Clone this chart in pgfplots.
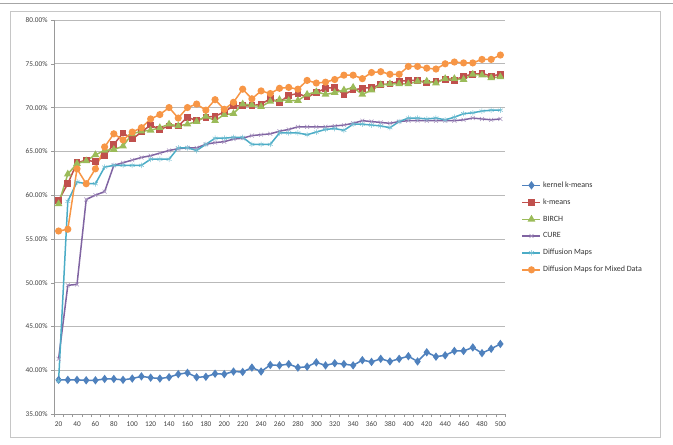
\documentclass[border=0pt]{standalone}
\usepackage{pgfplots}
\pgfplotsset{compat=1.18}
\usepackage{pgfplotstable}
\usepackage{fontspec}
\setmainfont{Carlito}
\definecolor{cBlue}{HTML}{4F81BD}
\definecolor{cRed}{HTML}{C0504D}
\definecolor{cGreen}{HTML}{9BBB59}
\definecolor{cPurple}{HTML}{8064A2}
\definecolor{cCyan}{HTML}{4BACC6}
\definecolor{cOrange}{HTML}{F79646}
\pgfplotstableread{
x kkm km birch cure dm dmm
20 38.9 59.4 59.0 41.3 38.8 55.9
30 38.9 61.3 62.4 49.7 59.3 56.1
40 38.9 63.7 63.6 49.8 61.5 63.0
50 38.85 64.0 63.9 59.5 61.3 61.3
60 38.85 63.8 64.6 60.0 61.3 63.0
70 39.0 64.5 65.1 60.4 63.2 65.5
80 39.0 65.8 65.2 63.4 63.4 67.0
90 38.9 67.1 65.6 63.7 63.4 66.3
100 39.05 66.4 67.0 64.0 63.4 67.2
110 39.3 67.2 67.3 64.3 63.4 67.7
120 39.15 68.0 67.4 64.5 64.1 68.7
130 39.05 67.5 67.7 64.8 64.1 69.2
140 39.2 67.9 68.1 65.1 64.1 70.0
150 39.55 67.9 67.9 65.3 65.4 68.8
160 39.7 68.9 68.1 65.4 65.4 70.0
170 39.2 68.5 68.4 65.4 65.1 70.4
180 39.25 68.9 69.0 65.8 65.8 69.7
190 39.6 69.0 68.5 66.0 66.5 70.9
200 39.55 69.5 69.2 66.1 66.5 69.8
210 39.85 70.2 69.3 66.4 66.6 70.6
220 39.8 70.2 70.4 66.5 66.6 72.1
230 40.3 70.2 70.3 66.8 65.8 71.0
240 39.85 70.4 70.1 66.9 65.8 71.9
250 40.6 71.0 70.7 67.0 65.8 71.6
260 40.55 70.6 70.9 67.3 67.1 72.2
270 40.7 71.4 70.8 67.5 67.1 72.3
280 40.3 71.6 70.8 67.8 67.1 72.1
290 40.4 71.2 71.5 67.8 66.9 73.1
300 40.9 71.7 71.8 67.8 67.2 72.8
310 40.55 72.2 71.5 67.8 67.5 72.9
320 40.8 72.3 71.7 67.9 67.6 73.2
330 40.7 71.5 72.0 68.0 67.4 73.7
340 40.55 72.0 72.3 68.2 68.1 73.7
350 41.15 72.2 71.5 68.5 68.1 73.3
360 40.95 72.3 72.0 68.4 68.0 74.0
370 41.3 72.6 72.6 68.3 67.9 74.1
380 41.0 72.7 72.7 68.2 67.7 73.8
390 41.3 73.0 72.7 68.4 68.4 73.8
400 41.6 73.1 72.7 68.5 68.8 74.7
410 41.0 73.1 73.0 68.5 68.8 74.7
420 42.05 72.8 73.0 68.5 68.7 74.5
430 41.55 73.0 72.8 68.5 68.8 74.4
440 41.7 73.2 73.3 68.5 68.6 75.0
450 42.2 73.1 73.3 68.5 68.9 75.2
460 42.2 73.6 73.2 68.6 69.3 75.1
470 42.6 73.8 73.8 68.8 69.4 75.1
480 41.95 73.9 73.7 68.7 69.6 75.5
490 42.45 73.6 73.4 68.6 69.7 75.5
500 43.0 73.8 73.5 68.7 69.7 76.0
}\datatable
\begin{document}
\begin{tikzpicture}[x=1pt,y=1pt]
\useasboundingbox (0,0) rectangle (673,445);
\draw[gray!70, line width=0.8pt] (0,442) -- (673,442);
\draw[gray!45, line width=0.8pt] (10,8) rectangle (660,434);
\begin{axis}[
  at={(54pt,31pt)}, anchor=south west,
  scale only axis, width=451pt, height=394pt,
  xmin=15, xmax=505, ymin=35, ymax=80,
  axis lines=left, axis line style={gray!80, -},
  xtick={20,40,...,500},
  minor xtick={15,25,...,505},
  ytick={35,40,...,80},
  ymajorgrids, grid style={gray!55, line width=0.6pt},
  tick align=outside,
  major tick length=3pt, minor tick length=3pt,
  x tick style={draw=none}, minor x tick style={draw=gray!80},
  y tick style={gray!80},
  tick label style={font=\fontsize{7.3}{8}\selectfont, text=black!75},
  /pgf/number format/assume math mode=true,
  xticklabel style={yshift=-1pt},
  yticklabel={\pgfmathprintnumber[fixed,fixed zerofill,precision=2]{\tick}\%},
  legend style={at={(1.03,0.60)}, anchor=north west, draw=none, fill=none,
    font=\fontsize{8}{9}\selectfont, row sep=6pt, text=black!80},
  legend cell align=left,
  legend image code/.code={
    \draw[#1, mark=none] (0pt,0pt) -- (18pt,0pt);
    \draw[#1, only marks] plot coordinates {(9pt,0pt)};
  },
  every axis plot/.append style={line width=1.5pt},
]
\addplot[cBlue, mark=diamond*, mark size=3pt, mark options={solid}] table[x=x,y=kkm] {\datatable};
\addplot[cRed, mark=square*, mark size=2.6pt] table[x=x,y=km] {\datatable};
\addplot[cGreen, mark=triangle*, mark size=3pt] table[x=x,y=birch] {\datatable};
\addplot[cPurple, mark=x, mark size=2.8pt, mark options={line width=0.5pt, draw=cPurple!70}] table[x=x,y=cure] {\datatable};
\addplot[cCyan, mark=asterisk, mark size=2.8pt, mark options={line width=0.5pt, draw=cCyan!80}] table[x=x,y=dm] {\datatable};
\addplot[cOrange, mark=*, mark size=2.8pt] table[x=x,y=dmm] {\datatable};
\legend{kernel k-means, k-means, BIRCH, CURE, Diffusion Maps, Diffusion Maps for Mixed Data}
\end{axis}
\end{tikzpicture}
\end{document}
